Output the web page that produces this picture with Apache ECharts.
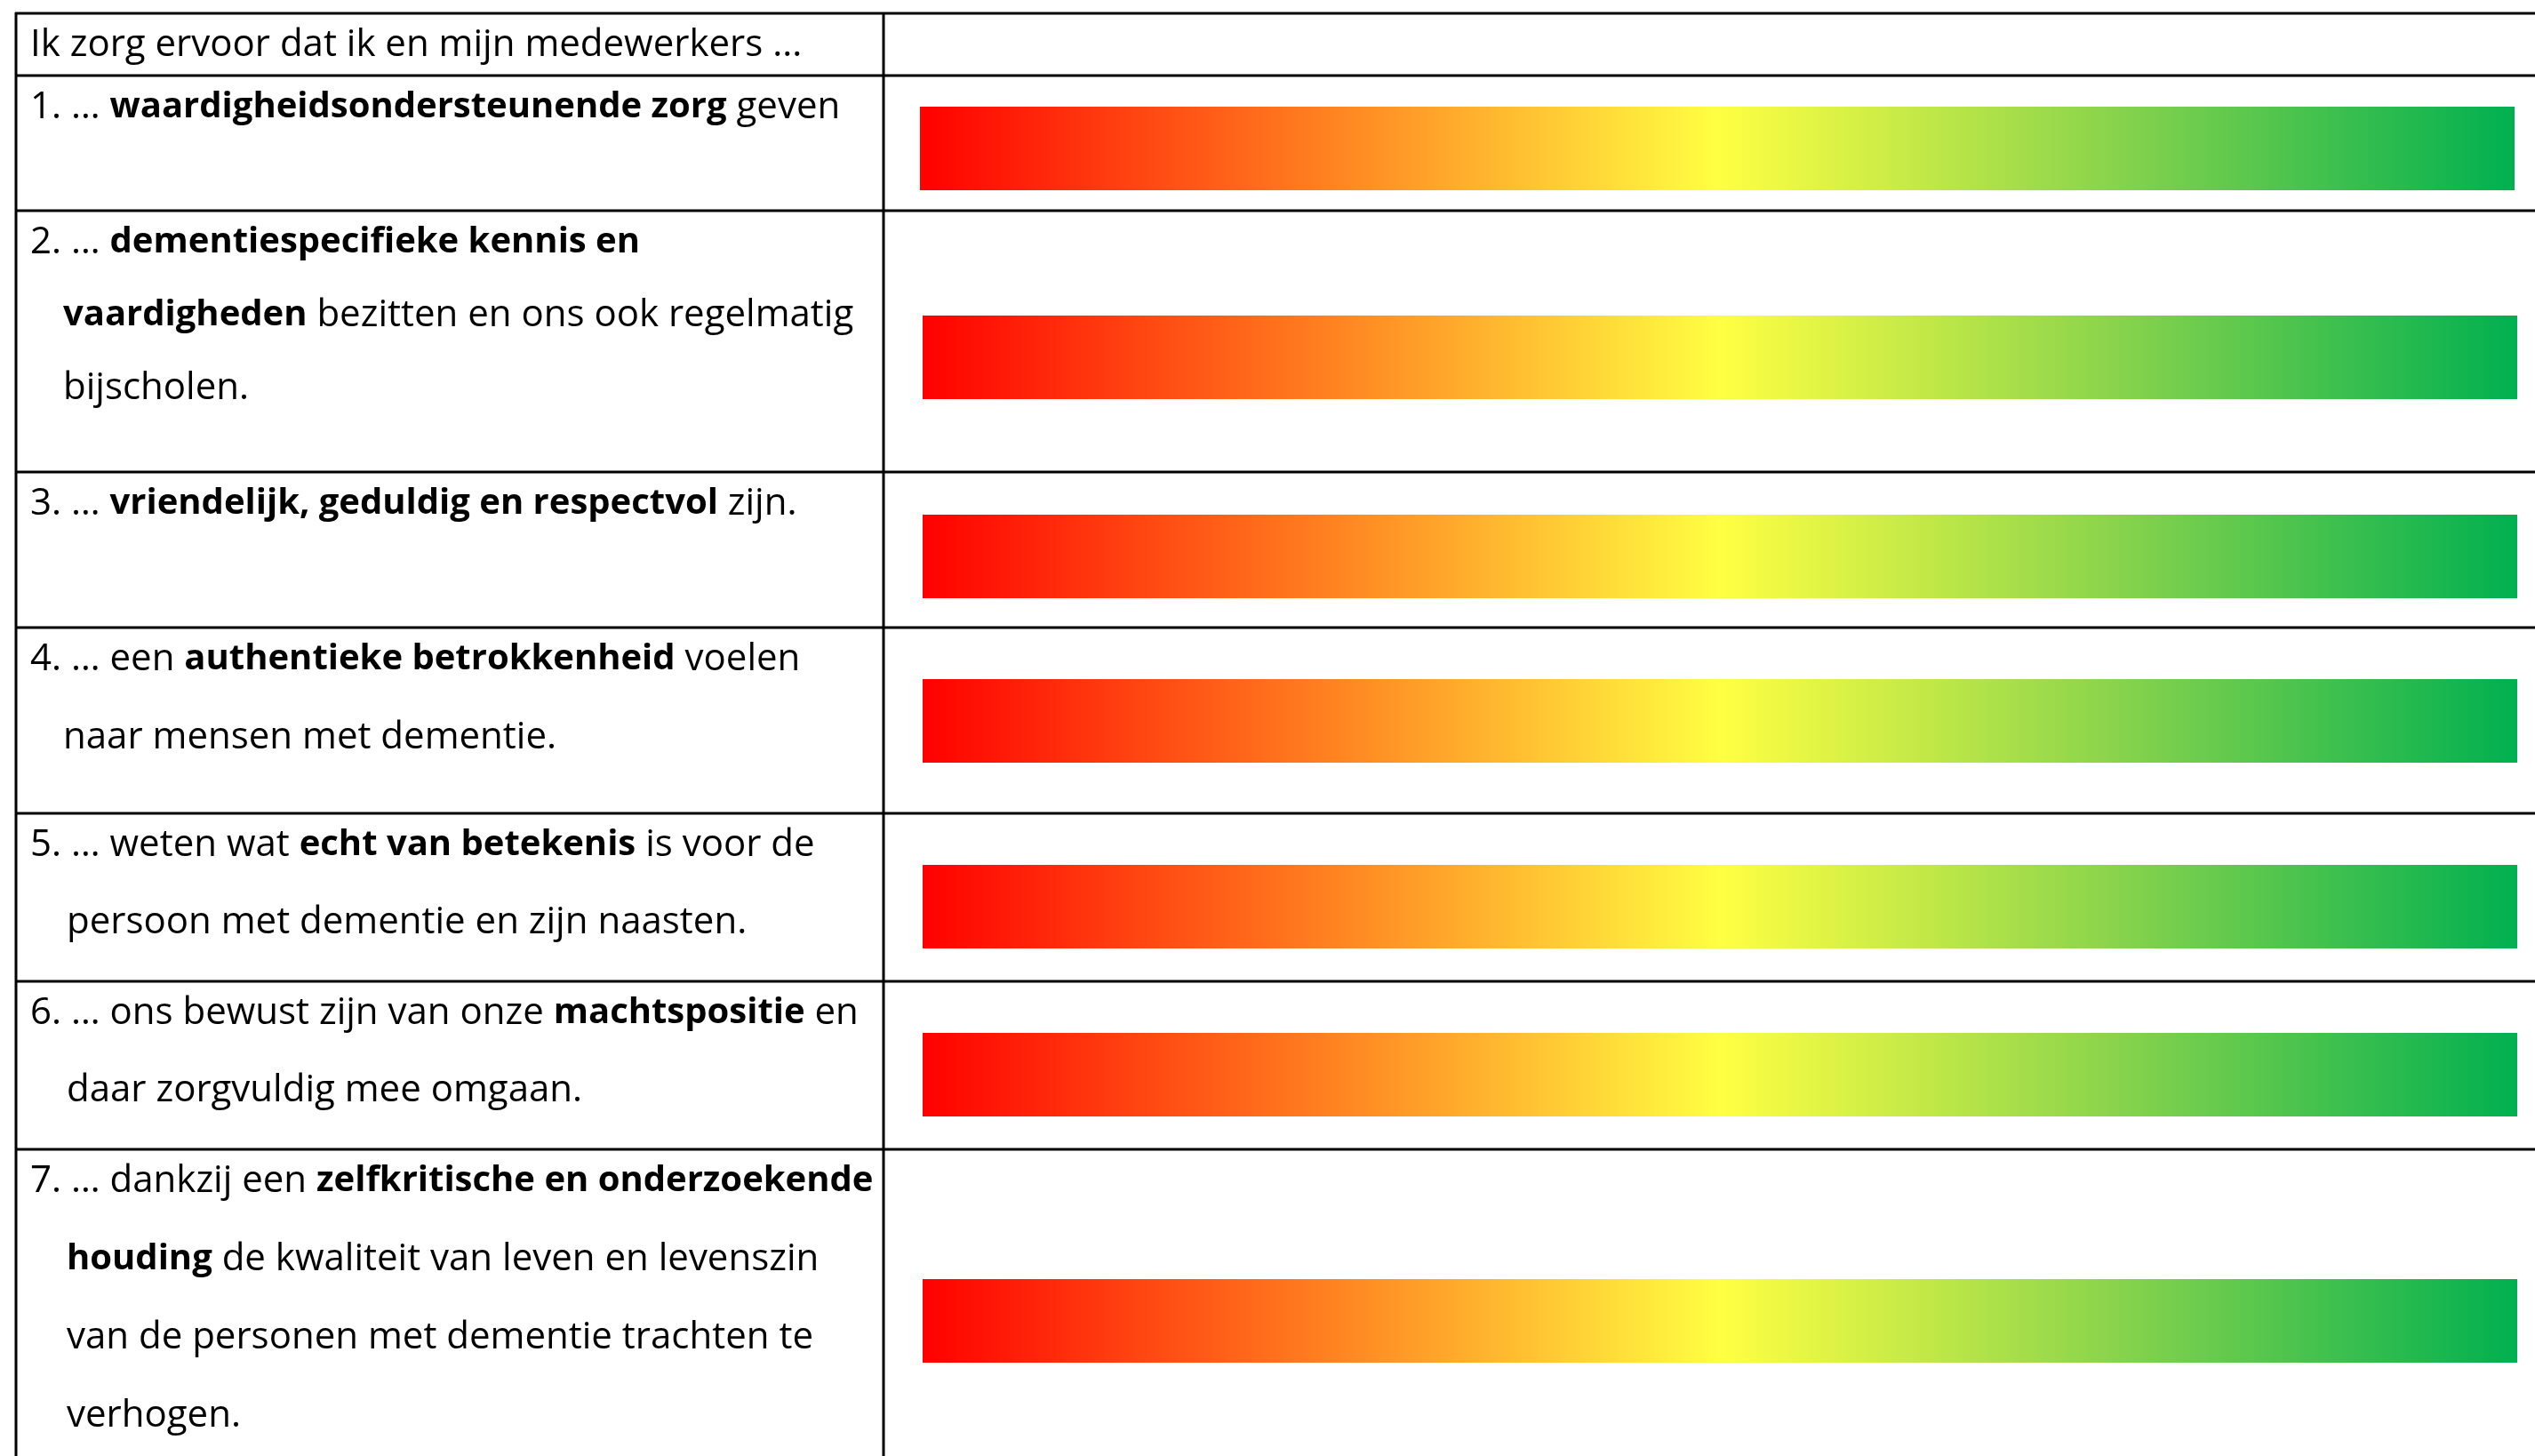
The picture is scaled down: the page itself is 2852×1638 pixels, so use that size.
<!DOCTYPE html>
<html>
<head>
<meta charset="utf-8">
<script src="https://cdn.jsdelivr.net/npm/echarts@6/dist/echarts.min.js"></script>
<style>
html,body{margin:0;padding:0;background:#fff;}
#chart{width:2852px;height:1638px;}
</style>
</head>
<body>
<div id="chart"></div>
<script>
// ---------- DATA ----------
const headerText = 'Ik zorg ervoor dat ik en mijn medewerkers ...';
const statementLines = [
  ['1. … {b|waardigheidsondersteunende zorg} geven'],
  ['2. … {b|dementiespecifieke kennis en}', '{b|vaardigheden} bezitten en ons ook regelmatig', 'bijscholen.'],
  ['3. … {b|vriendelijk, geduldig en respectvol} zijn.'],
  ['4. … een {b|authentieke betrokkenheid} voelen', 'naar mensen met dementie.'],
  ['5. … weten wat {b|echt van betekenis} is voor de', 'persoon met dementie en zijn naasten.'],
  ['6. … ons bewust zijn van onze {b|machtspositie} en', 'daar zorgvuldig mee omgaan.'],
  ['7. … dankzij een {b|zelfkritische en onderzoekende}', '{b|houding} de kwaliteit van leven en levenszin', 'van de personen met dementie trachten te', 'verhogen.']
];
const scaleMin = 0;
const scaleMax = 100;
const barValues = [100, 100, 100, 100, 100, 100, 100];

// ---------- LAYOUT (pixels) ----------
const tableTop = 15, headerBottom = 85;
const rowBottoms = [237, 531, 706, 915, 1104, 1293, 1700];
const tableLeft = 18, dividerX = 994, pageW = 2852, pageH = 1638;
const barLefts = [1035, 1038, 1038, 1038, 1038, 1038, 1038];
const barRights = [2829, 2832, 2832, 2832, 2832, 2832, 2832];
const barTops = [120, 355, 579, 764, 973, 1162, 1439];
const barHeight = 94;
const lineSpacing = [88, 82, 88, 88, 87, 87, 88];
const indents = [73, 71, 73, 71, 75, 75, 75];
const textX = 34;
const firstBaselineOffset = 45;

// ---------- STYLE ----------
const FONT = '"Open Sans", "Noto Sans", sans-serif';
const FONT_SIZE = 42;
const BOLD_SIZE = 40;
const gradientStops = [
  {offset: 0, color: '#FF0000'},
  {offset: 0.25, color: '#FF7F20'},
  {offset: 0.5, color: '#FFFF42'},
  {offset: 0.75, color: '#88D34C'},
  {offset: 1, color: '#00B050'}
];

const chart = echarts.init(document.getElementById('chart'), null, {renderer: 'canvas'});

const grids = [], xAxes = [], yAxes = [], series = [];
barValues.forEach((v, i) => {
  grids.push({left: barLefts[i], top: barTops[i], width: barRights[i] - barLefts[i], height: barHeight, containLabel: false});
  xAxes.push({type: 'value', gridIndex: i, min: scaleMin, max: scaleMax, show: false});
  yAxes.push({type: 'category', gridIndex: i, data: ['stelling ' + (i + 1)], show: false});
  series.push({
    type: 'bar', xAxisIndex: i, yAxisIndex: i, data: [v], barWidth: '100%',
    itemStyle: {color: new echarts.graphic.LinearGradient(0, 0, 1, 0, gradientStops)},
    silent: true
  });
});

const graphics = [];
const lineStyle = {stroke: '#000', lineWidth: 3};
[tableTop, headerBottom].concat(rowBottoms).forEach(y => {
  if (y > pageH) return;
  graphics.push({type: 'line', shape: {x1: tableLeft - 1, y1: y, x2: pageW, y2: y}, style: lineStyle, silent: true});
});
[tableLeft, dividerX].forEach(x => {
  graphics.push({type: 'line', shape: {x1: x, y1: tableTop - 1, x2: x, y2: pageH}, style: lineStyle, silent: true});
});

const rich = {b: {fontFamily: FONT, fontSize: BOLD_SIZE, fontWeight: 'bold', fill: '#000'}};
function addText(str, x, baseline) {
  graphics.push({
    type: 'text', x: x, y: baseline, silent: true,
    style: {
      text: str, fontFamily: FONT, fontSize: FONT_SIZE, fill: '#000',
      textAlign: 'left', textVerticalAlign: 'bottom', rich: rich
    }
  });
}
addText(headerText, textX, tableTop + firstBaselineOffset + 12);
statementLines.forEach((lines, i) => {
  const top = i === 0 ? headerBottom : rowBottoms[i - 1];
  lines.forEach((ln, j) => {
    addText(ln, j === 0 ? textX : indents[i], top + firstBaselineOffset + 12 + j * lineSpacing[i]);
  });
});

chart.setOption({
  animation: false,
  backgroundColor: '#fff',
  grid: grids,
  xAxis: xAxes,
  yAxis: yAxes,
  series: series,
  graphic: {elements: graphics}
});
</script>
</body>
</html>
